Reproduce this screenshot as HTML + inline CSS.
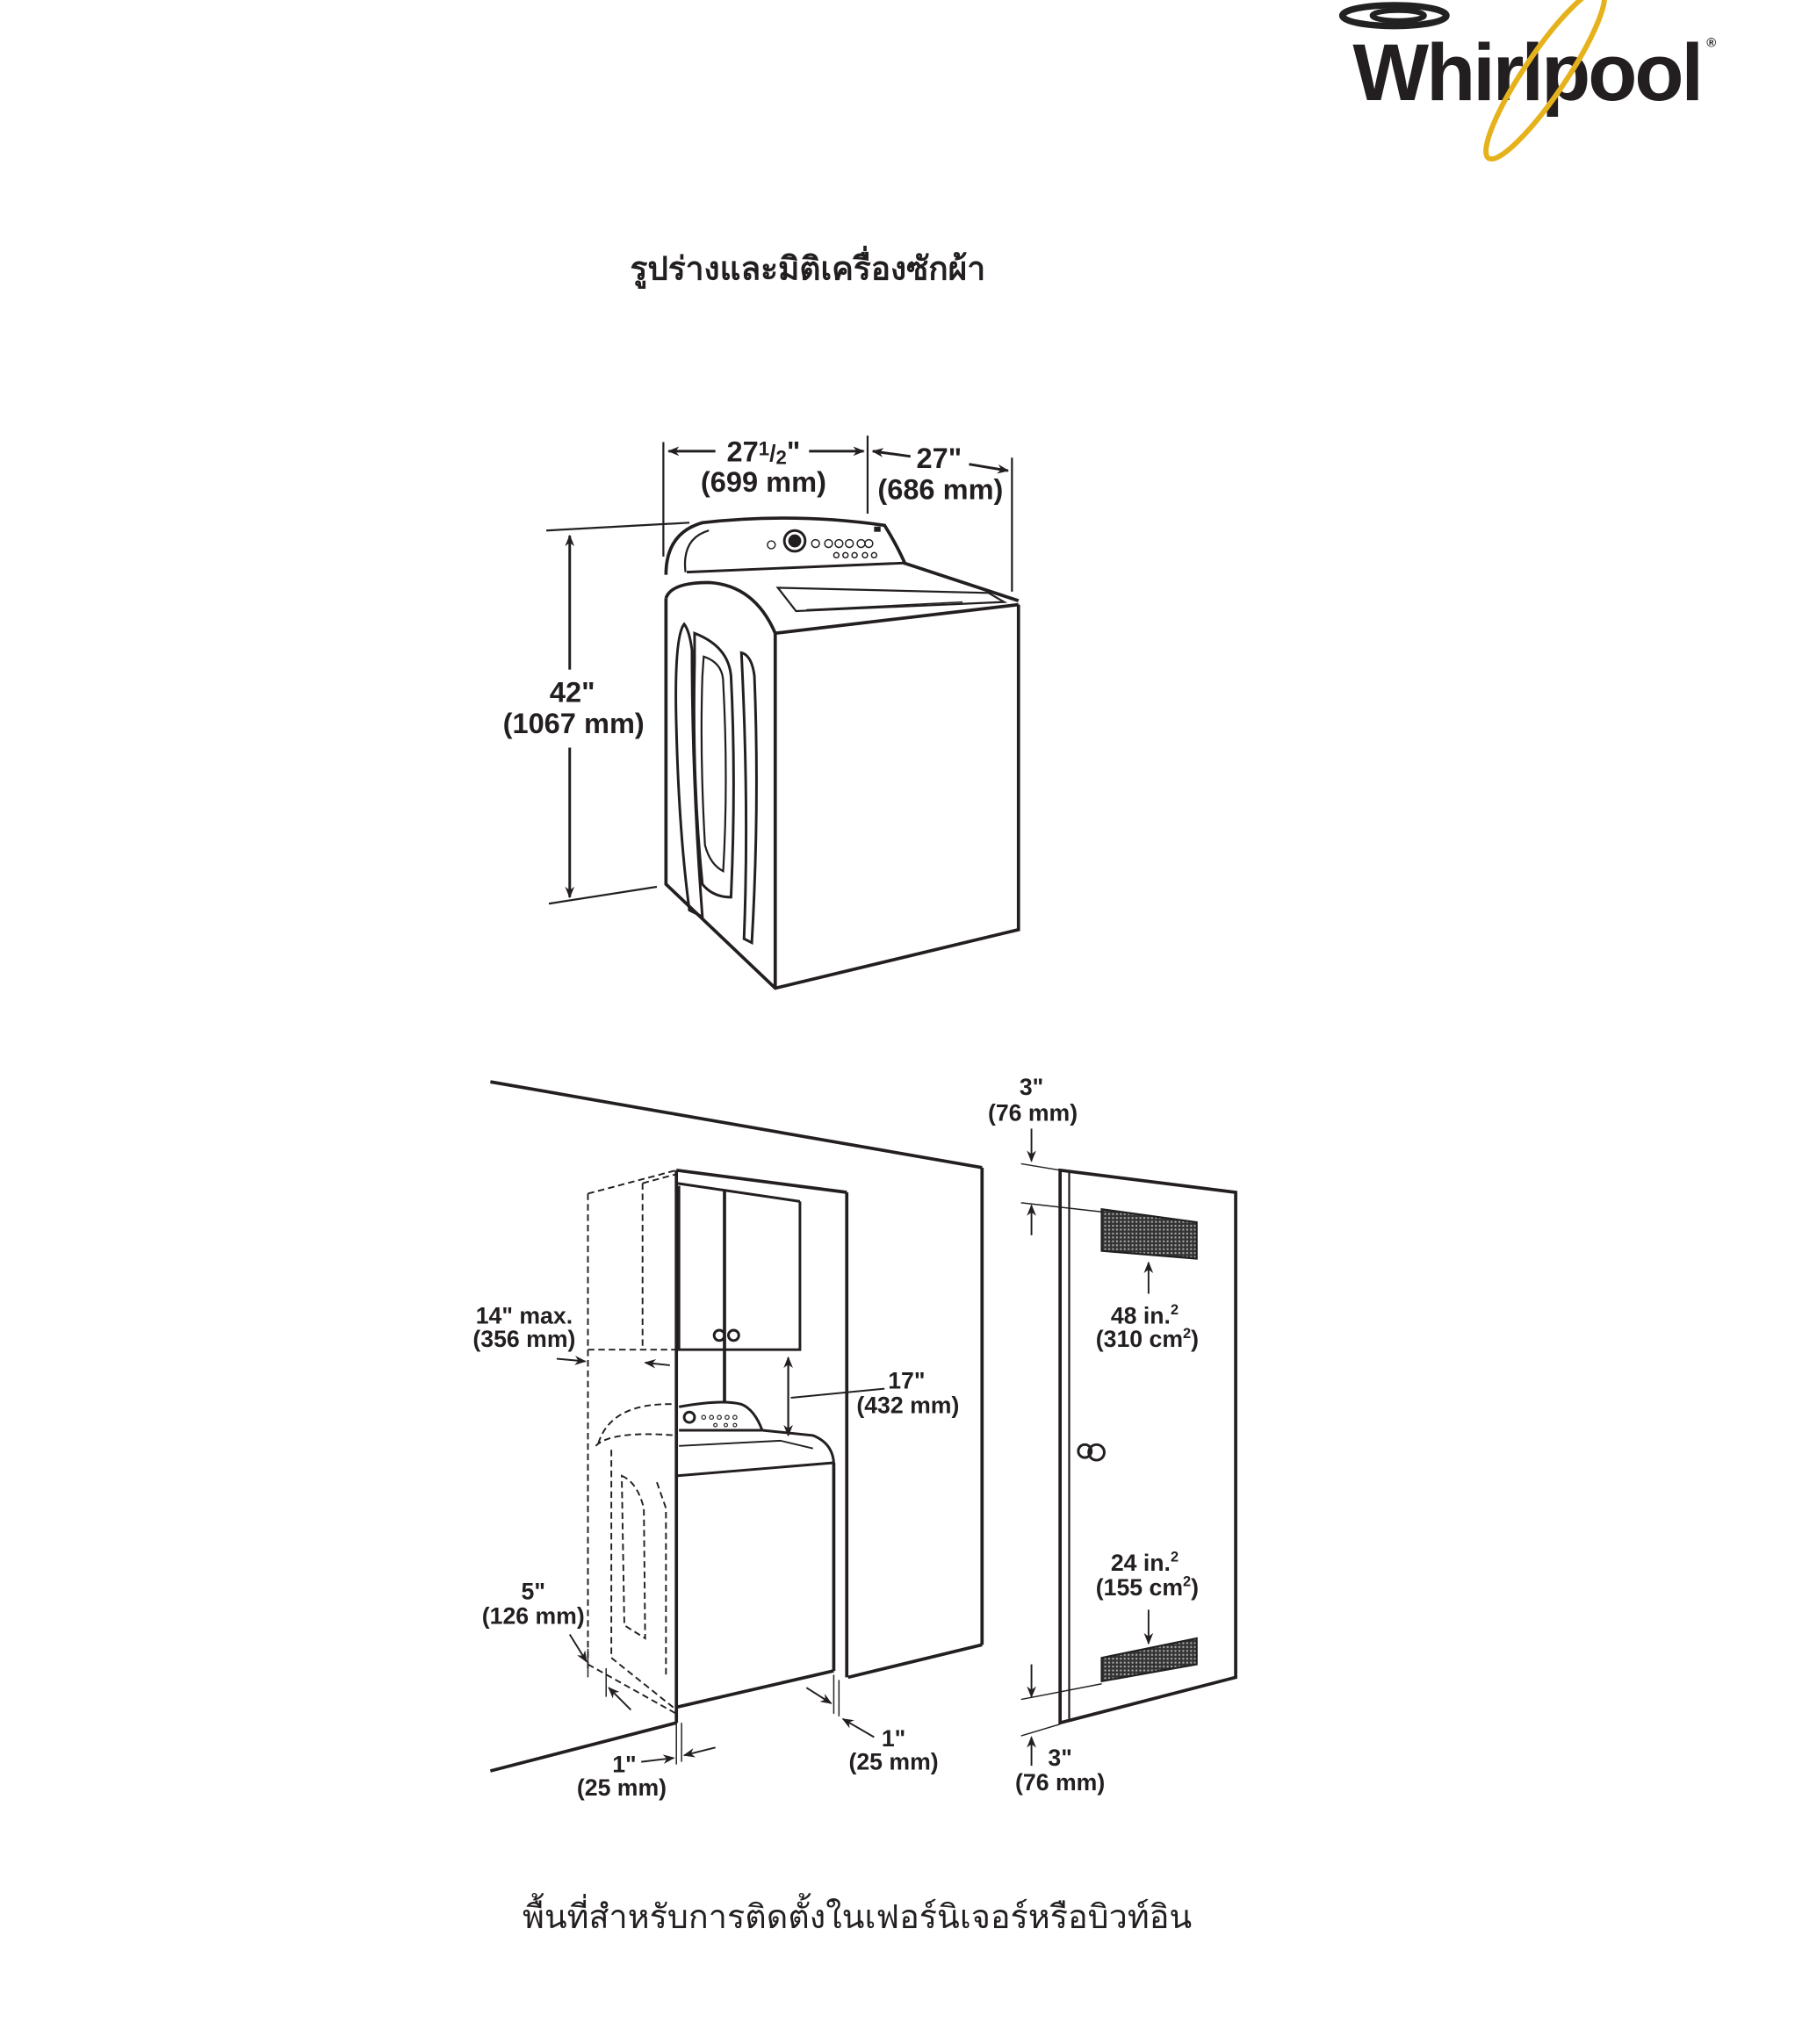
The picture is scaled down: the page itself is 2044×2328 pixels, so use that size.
<!DOCTYPE html>
<html><head><meta charset="utf-8">
<style>
html,body{margin:0;padding:0;background:#fff;}
svg{display:block;}
text{font-family:"Liberation Sans",Arial,sans-serif;font-weight:bold;fill:#231f20;}
.th{font-family:"Liberation Sans","Noto Sans CJK SC",sans-serif;}
</style></head>
<body>
<svg width="2044" height="2328" viewBox="0 0 1380 1572" preserveAspectRatio="none" xmlns="http://www.w3.org/2000/svg">
<defs>
<marker id="a" viewBox="0 0 10 10" refX="9" refY="5" markerWidth="9" markerHeight="9" orient="auto-start-reverse" markerUnits="userSpaceOnUse">
<path d="M0,1 L10,5 L0,9 L3,5 z" fill="#231f20"/></marker>
<pattern id="h" width="3" height="3" patternUnits="userSpaceOnUse"><rect width="3" height="3" fill="#333"/><rect width="1.4" height="1.4" fill="#aaa"/></pattern>
</defs>

<g>
<ellipse cx="1072" cy="12" rx="40" ry="8" fill="none" stroke="#222" stroke-width="5"/>
<ellipse cx="1075" cy="12" rx="20" ry="4" fill="none" stroke="#222" stroke-width="4"/>
<text x="1040" y="77" font-size="62" style="font-family:'Liberation Sans',sans-serif;font-weight:bold;letter-spacing:-2px" fill="#222">Whirlpool</text>
<text x="1312" y="36" font-size="10">®</text>
<ellipse cx="1188" cy="57" rx="78" ry="16" transform="rotate(-56 1188 57)" fill="none" stroke="#e6b21c" stroke-width="4"/>
</g>

<text class="th" x="621" y="215" font-size="25" style="font-weight:bold" text-anchor="middle">รูปร่างและมิติเครื่องซักผ้า</text>

<g stroke="#231f20" fill="none" stroke-width="2">
<line x1="510" y1="340" x2="510" y2="428" stroke-width="1.5"/>
<line x1="667" y1="335" x2="667" y2="395" stroke-width="1.5"/>
<line x1="778" y1="352" x2="778" y2="455" stroke-width="1.5"/>
<line x1="514" y1="347" x2="550" y2="347" marker-start="url(#a)"/>
<line x1="622" y1="347" x2="664" y2="347" marker-end="url(#a)"/>
<line x1="671" y1="347" x2="700" y2="351" marker-start="url(#a)"/>
<line x1="745" y1="357" x2="775" y2="362" marker-end="url(#a)"/>
<line x1="420" y1="408" x2="530" y2="402" stroke-width="1.5"/>
<line x1="422" y1="695" x2="505" y2="682" stroke-width="1.5"/>
<line x1="438" y1="412" x2="438" y2="515" marker-start="url(#a)"/>
<line x1="438" y1="575" x2="438" y2="690" marker-end="url(#a)"/>
<path d="M512,442 Q512,410 540,402 Q610,394 680,404 Q690,420 696,434" stroke-width="2.5"/>
<path d="M527,440 Q524,414 545,408" stroke-width="1.5"/>
<line x1="528" y1="440" x2="695" y2="433"/>
<circle cx="611" cy="416" r="8" stroke-width="2"/>
<circle cx="611" cy="416" r="4" fill="#231f20"/>
<g stroke-width="1"><circle cx="593" cy="419" r="3"/><circle cx="627" cy="418" r="3"/><circle cx="637" cy="418" r="3"/><circle cx="645" cy="418" r="3"/><circle cx="653" cy="418" r="3"/><circle cx="662" cy="418" r="3"/><circle cx="668" cy="418" r="3"/>
<circle cx="643" cy="427" r="2"/><circle cx="650" cy="427" r="2"/><circle cx="657" cy="427" r="2"/><circle cx="665" cy="427" r="2"/><circle cx="672" cy="427" r="2"/></g>
<rect x="672" y="405" width="5" height="4" fill="#231f20" stroke="none"/>
<path d="M512,460 Q516,448 545,448 Q580,450 596,487" stroke-width="2.5"/>
<line x1="695" y1="433" x2="783" y2="462" stroke-width="2.5"/>
<line x1="596" y1="487" x2="783" y2="465" stroke-width="2.5"/>
<path d="M598,452 L760,456 L772,463 L612,470 Z" stroke-width="1.5"/>
<line x1="620" y1="469" x2="740" y2="463" stroke-width="1"/>
<path d="M512,460 L512,680 L596,760 L783,715 L783,465" stroke-width="2.5"/>
<line x1="596" y1="487" x2="596" y2="760" stroke-width="2.5"/>
<path d="M526,480 Q518,490 520,560 Q522,640 530,700 L540,705 Q532,600 532,500 Q530,485 526,480 Z" stroke-width="2"/>
<path d="M534,487 Q560,497 562,520 Q566,600 562,690 Q548,690 540,680 Q532,600 534,510 Z" stroke-width="2"/>
<path d="M541,505 Q556,510 556,525 Q560,600 556,670 Q546,665 542,650 Q538,580 540,520 Z" stroke-width="1.5"/>
<path d="M570,502 Q578,504 580,520 Q584,620 578,725 L572,722 Q576,620 570,502 Z" stroke-width="2"/>
</g>
<text x="587" y="355" font-size="22" text-anchor="middle">27<tspan font-size="15" dy="-5">1</tspan><tspan font-size="18" dy="5">/</tspan><tspan font-size="15" dy="2">2</tspan><tspan dy="-2">"</tspan></text>
<text x="587" y="378" font-size="22" text-anchor="middle">(699 mm)</text>
<text x="722" y="360" font-size="22" text-anchor="middle">27"</text>
<text x="723" y="384" font-size="22" text-anchor="middle">(686 mm)</text>
<text x="440" y="540" font-size="22" text-anchor="middle">42"</text>
<text x="441" y="564" font-size="22" text-anchor="middle">(1067 mm)</text>

<g stroke="#231f20" fill="none" stroke-width="2">
<line x1="377" y1="832" x2="755" y2="898" stroke-width="2.5"/>
<line x1="755" y1="898" x2="755" y2="1265" stroke-width="2.5"/>
<line x1="652" y1="1290" x2="755" y2="1265" stroke-width="2.5"/>
<line x1="377" y1="1362" x2="520" y2="1325" stroke-width="2.5"/>
<line x1="520" y1="900" x2="520" y2="1325" stroke-width="2.5"/>
<line x1="520" y1="900" x2="651" y2="917" stroke-width="2.5"/>
<line x1="651" y1="917" x2="651" y2="1290" stroke-width="2.5"/>
<line x1="520" y1="910" x2="615" y2="924"/>
<path d="M522,912 L522,1038 L615,1038 L615,924" stroke-width="2"/>
<line x1="557" y1="916" x2="557" y2="1078" stroke-width="2.5"/>
<circle cx="553" cy="1027" r="4"/><circle cx="564" cy="1027" r="4"/>
<g stroke-dasharray="5,3" stroke-width="1.3">
<line x1="452" y1="918" x2="520" y2="900"/>
<line x1="494" y1="910" x2="520" y2="903"/>
<line x1="452" y1="918" x2="452" y2="1285"/>
<line x1="494" y1="910" x2="494" y2="1038"/>
<line x1="452" y1="1038" x2="520" y2="1038"/>
<path d="M460,1110 Q470,1078 520,1080"/>
<path d="M458,1112 Q470,1100 520,1104"/>
<path d="M470,1115 L470,1275 L520,1315"/>
<path d="M478,1135 Q490,1140 495,1160 L496,1260 L480,1250 Z"/>
<path d="M505,1140 L512,1160 L512,1290"/>
<line x1="452" y1="1280" x2="520" y2="1318"/>
</g>
<path d="M522,1082 Q555,1076 570,1080 Q580,1084 586,1100" stroke-width="2"/>
<line x1="522" y1="1100" x2="586" y2="1100"/>
<circle cx="530" cy="1090" r="4"/>
<g stroke-width="0.8"><circle cx="541" cy="1090" r="1.5"/><circle cx="547" cy="1090" r="1.5"/><circle cx="553" cy="1090" r="1.5"/><circle cx="559" cy="1090" r="1.5"/><circle cx="565" cy="1090" r="1.5"/><circle cx="550" cy="1096" r="1.3"/><circle cx="558" cy="1096" r="1.3"/><circle cx="565" cy="1096" r="1.3"/></g>
<path d="M586,1100 L625,1104 Q640,1110 641,1125" stroke-width="2"/>
<path d="M522,1112 L600,1108 L625,1114" stroke-width="1.3"/>
<line x1="520" y1="1135" x2="641" y2="1125" stroke-width="2"/>
<line x1="641" y1="1125" x2="641" y2="1285" stroke-width="2.5"/>
<line x1="520" y1="1313" x2="641" y2="1285" stroke-width="2.5"/>
<line x1="606" y1="1044" x2="606" y2="1104" marker-start="url(#a)" marker-end="url(#a)" stroke-width="1.5"/>
<line x1="608" y1="1075" x2="680" y2="1068" stroke-width="1.3"/>
<line x1="428" y1="1045" x2="450" y2="1047" marker-end="url(#a)" stroke-width="1.3"/>
<line x1="515" y1="1050" x2="496" y2="1048" marker-end="url(#a)" stroke-width="1.3"/>
<line x1="438" y1="1257" x2="451" y2="1278" marker-end="url(#a)" stroke-width="1.3"/>
<line x1="485" y1="1315" x2="468" y2="1298" marker-end="url(#a)" stroke-width="1.3"/>
<line x1="452" y1="1268" x2="452" y2="1290" stroke-width="1"/>
<line x1="466" y1="1283" x2="466" y2="1305" stroke-width="1"/>
<line x1="520" y1="1325" x2="520" y2="1357" stroke-width="1"/>
<line x1="524" y1="1325" x2="524" y2="1355" stroke-width="1"/>
<line x1="493" y1="1355" x2="518" y2="1352" marker-end="url(#a)" stroke-width="1.3"/>
<line x1="550" y1="1344" x2="526" y2="1350" marker-end="url(#a)" stroke-width="1.3"/>
<line x1="641" y1="1288" x2="641" y2="1318" stroke-width="1"/>
<line x1="645" y1="1292" x2="645" y2="1320" stroke-width="1"/>
<line x1="620" y1="1298" x2="639" y2="1310" marker-end="url(#a)" stroke-width="1.3"/>
<line x1="672" y1="1336" x2="648" y2="1322" marker-end="url(#a)" stroke-width="1.3"/>
<path d="M815,900 L950,917 L950,1290 L815,1325 Z" stroke-width="2.5"/>
<line x1="822" y1="902" x2="822" y2="1322" stroke-width="1.5"/>
<path d="M847,930 L920,940 L920,968 L847,962 Z" fill="url(#h)" stroke-width="1.5"/>
<path d="M847,1275 L920,1260 L920,1280 L847,1293 Z" fill="url(#h)" stroke-width="1.5"/>
<circle cx="834" cy="1116" r="5"/><circle cx="843" cy="1117" r="6"/>
<line x1="883" y1="995" x2="883" y2="971" marker-end="url(#a)" stroke-width="1.3"/>
<line x1="883" y1="1238" x2="883" y2="1264" marker-end="url(#a)" stroke-width="1.3"/>
<line x1="785" y1="895" x2="815" y2="900" stroke-width="1"/>
<line x1="785" y1="925" x2="847" y2="932" stroke-width="1"/>
<line x1="793" y1="868" x2="793" y2="893" marker-end="url(#a)" stroke-width="1.3"/>
<line x1="793" y1="950" x2="793" y2="927" marker-end="url(#a)" stroke-width="1.3"/>
<line x1="785" y1="1307" x2="847" y2="1295" stroke-width="1"/>
<line x1="785" y1="1335" x2="815" y2="1326" stroke-width="1"/>
<line x1="793" y1="1280" x2="793" y2="1305" marker-end="url(#a)" stroke-width="1.3"/>
<line x1="793" y1="1358" x2="793" y2="1336" marker-end="url(#a)" stroke-width="1.3"/>
</g>
<g font-size="18" text-anchor="middle">
<text x="403" y="1018">14" max.</text><text x="403" y="1036">(356 mm)</text>
<text x="697" y="1068">17"</text><text x="698" y="1087">(432 mm)</text>
<text x="410" y="1230">5"</text><text x="410" y="1249">(126 mm)</text>
<text x="480" y="1363">1"</text><text x="478" y="1381">(25 mm)</text>
<text x="687" y="1343">1"</text><text x="687" y="1361">(25 mm)</text>
<text x="793" y="842">3"</text><text x="794" y="862">(76 mm)</text>
<text x="880" y="1018">48 in.<tspan font-size="11" dy="-7">2</tspan></text>
<text x="882" y="1036">(310 cm<tspan font-size="11" dy="-7">2</tspan><tspan dy="7">)</tspan></text>
<text x="880" y="1208">24 in.<tspan font-size="11" dy="-7">2</tspan></text>
<text x="882" y="1227">(155 cm<tspan font-size="11" dy="-7">2</tspan><tspan dy="7">)</tspan></text>
<text x="815" y="1358">3"</text><text x="815" y="1377">(76 mm)</text>
</g>

<text class="th" x="659" y="1483" font-size="25.5" style="font-weight:normal" text-anchor="middle">พื้นที่สำหรับการติดตั้งในเฟอร์นิเจอร์หรือบิวท์อิน</text>
</svg>
</body></html>
